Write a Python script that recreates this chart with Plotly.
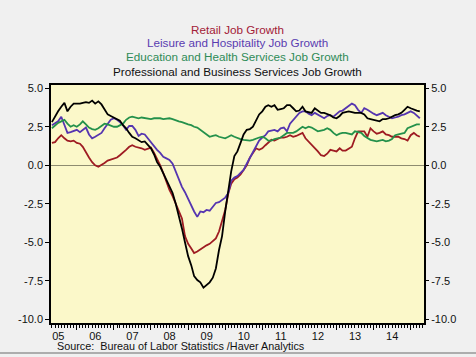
import pandas as pd
import plotly.graph_objects as go

# ---- data (monthly, % change y/y), May 2005 .. Apr 2015 ----
dates = pd.date_range("2005-05-01", periods=120, freq="MS")

retail = [1.45, 1.5, 1.75, 1.95, 1.75, 1.6, 1.55, 1.6, 1.45, 1.4, 1.2, 0.8, 0.5, 0.2, 0.0, -0.1, 0.0, 0.15, 0.3, 0.35,
          0.4, 0.5, 0.65, 0.8, 1.0, 1.2, 1.3, 1.2, 1.15, 1.1, 1.0, 1.1, 1.15, 0.8, 0.45, 0.0, -0.5, -1.1, -1.6, -2.0,
          -2.45, -2.9, -3.45, -4.6, -5.1, -5.4, -5.7, -5.6, -5.45, -5.3, -5.2, -5.1, -4.9, -4.75, -4.3, -3.6, -2.9, -1.8, -1.2, -0.9,
          -0.8, -0.6, -0.3, 0.0, 0.5, 0.8, 1.1, 1.0, 1.1, 1.3, 1.5, 1.65, 1.6, 1.7, 1.8, 1.8, 1.85, 1.95, 1.85, 1.9,
          2.0, 2.1, 1.75, 1.55, 1.35, 1.1, 0.9, 0.65, 0.6, 0.75, 1.0, 0.95, 0.9, 1.1, 0.95, 0.95, 1.05, 1.2, 1.75, 2.2,
          2.2, 2.2, 1.85, 2.4, 2.2, 2.05, 2.1, 2.2, 2.0, 1.95, 1.85, 1.85, 1.85, 1.75, 1.7, 1.6, 1.95, 2.1, 1.95, 1.85]

leisure = [2.6, 2.7, 2.85, 3.15, 2.6, 2.1, 2.15, 2.2, 2.3, 2.15, 2.3, 2.45, 2.0, 1.75, 1.85, 1.95, 2.1, 2.4, 2.7, 2.95,
           3.05, 2.95, 2.8, 2.6, 2.3, 2.55, 2.55, 2.3, 1.9, 2.05, 2.0, 1.75, 1.45, 1.2, 1.0, 0.8, 0.55, 0.45, 0.35, 0.1,
           -0.4, -0.9, -1.4, -1.75, -2.2, -2.6, -3.0, -3.35, -3.0, -3.05, -2.9, -2.95, -2.7, -2.45, -2.4, -2.25, -2.1, -1.8, -1.0, -0.8,
           -0.7, -0.5, -0.3, 0.1, 0.5, 0.9, 1.3, 1.6, 1.8, 1.95, 2.2, 2.25, 2.3, 2.2, 2.4, 2.45, 2.2, 2.7, 2.95, 3.15,
           3.4, 3.5, 3.5, 3.35, 3.25, 3.4, 3.3, 3.15, 3.05, 3.2, 3.25, 3.15, 3.3, 3.5, 3.55, 3.7, 3.8, 4.0, 3.9, 3.6,
           3.4, 3.7, 3.6, 3.45, 3.35, 3.25, 3.3, 3.4, 3.25, 3.15, 3.05, 3.1, 3.15, 3.25, 3.3, 3.4, 3.5, 3.4, 3.2, 3.05]

education = [2.4, 2.6, 2.75, 2.85, 2.95, 2.7, 2.5, 2.6, 2.5, 2.65, 2.85, 2.65, 2.45, 2.35, 2.3, 2.4, 2.55, 2.7, 2.65, 2.6,
             2.5, 2.5, 2.6, 2.7, 2.95, 3.1, 3.15, 3.1, 3.05, 3.1, 3.05, 3.0, 3.0, 3.05, 3.05, 3.05, 3.0, 3.05, 3.05, 3.0,
             2.9, 2.85, 2.8, 2.7, 2.65, 2.6, 2.5, 2.45, 2.3, 2.2, 2.0, 1.85, 1.9, 1.95, 1.85, 1.8, 1.75, 1.85, 1.95, 1.85,
             1.75, 1.7, 1.65, 1.6, 1.6, 1.65, 1.75, 1.8, 1.85, 1.75, 1.6, 1.6, 1.7, 1.75, 1.8, 1.95, 2.1, 2.1, 2.1, 2.2,
             2.35, 2.5, 2.4, 2.5, 2.45, 2.35, 2.2, 2.25, 2.3, 2.4, 2.3, 2.1, 1.95, 2.05, 2.1, 2.1, 2.05, 2.0, 2.2, 2.15,
             2.1, 1.9, 1.75, 1.65, 1.6, 1.55, 1.6, 1.65, 1.55, 1.6, 1.7, 1.95, 2.0, 2.05, 2.1, 2.4, 2.5, 2.55, 2.65, 2.65]

professional = [2.8, 3.2, 3.5, 3.8, 4.05, 3.5, 3.8, 4.0, 4.0, 4.0, 4.05, 4.1, 4.05, 4.2, 4.0, 4.15, 3.95, 3.6, 3.3, 3.2,
                3.1, 3.0, 2.9, 2.6, 2.4, 2.1, 1.85, 1.75, 1.6, 1.5, 1.55, 1.35, 1.1, 0.7, 0.2, -0.1, -0.5, -0.9, -1.4, -1.8,
                -2.5, -3.2, -4.1, -5.0, -5.9, -6.5, -7.2, -7.45, -7.6, -7.95, -7.75, -7.6, -7.3, -6.7, -5.5, -4.6, -3.0, -1.6, -0.4, 0.6,
                0.9, 1.45, 2.0, 2.3, 2.35, 2.5, 2.9, 3.3, 3.5, 3.8, 3.9, 3.8, 3.9, 3.6, 3.65, 3.7, 3.9, 3.9, 3.7, 3.5,
                3.55, 3.8, 3.5, 3.45, 3.4, 3.7, 3.55, 3.4, 3.4, 3.35, 3.25, 3.1, 3.05, 3.2, 3.4, 3.45, 3.5, 3.45, 3.4, 3.4,
                3.4, 3.3, 3.05, 3.0, 2.95, 2.9, 2.85, 3.0, 3.0, 3.05, 3.15, 3.25, 3.3, 3.4, 3.6, 3.8, 3.7, 3.6, 3.55, 3.5]

series_names = ["Retail Job Growth",
                "Leisure and Hospitality Job Growth",
                "Education and Health Services Job Growth",
                "Professional and Business Services Job Growth"]
line_colors = ["#9E1B22", "#5535B0", "#24914B", "#000000"]
title_colors = ["#A32038", "#5A3CB0", "#2E8B57", "#111111"]

y_tickvals = [5.0, 2.5, 0.0, -2.5, -5.0, -7.5, -10.0]
y_ticktext = ["5.0", "2.5", "0.0", "-2.5", "-5.0", "-7.5", "-10.0"]

source_text = "Source:\u00a0 Bureau of Labor Statistics /Haver Analytics"

# ---- figure ----
FONT = "Liberation Sans, Arial, sans-serif"
fig = go.Figure()
for vals, name, col in zip([retail, leisure, education, professional], series_names, line_colors):
    fig.add_trace(go.Scatter(x=dates, y=vals, mode="lines", name=name,
                             line=dict(color=col, width=1.8), showlegend=False))
# invisible helper traces so the right-hand axis and the year-label axis are drawn
fig.add_trace(go.Scatter(x=[dates[0]], y=[0], yaxis="y2", mode="markers",
                         marker=dict(opacity=0), showlegend=False, hoverinfo="skip"))
fig.add_trace(go.Scatter(x=[dates[0]], y=[0], xaxis="x2", mode="markers",
                         marker=dict(opacity=0), showlegend=False, hoverinfo="skip"))

x_range = ["2005-04-22", "2015-05-12"]
y_range = [-10.24, 5.21]

fig.update_layout(
    width=476, height=357,
    margin=dict(l=51, r=52, t=85, b=34),
    paper_bgcolor="#F0F0F0",
    plot_bgcolor="#FBF8C9",
    font=dict(family=FONT, size=11, color="#111111"),
    xaxis=dict(type="date", range=x_range, tickmode="linear", tick0="2005-01-01", dtick="M12",
               showticklabels=False, ticks="outside", ticklen=5, tickcolor="#000",
               tickwidth=1, minor=dict(dtick="M1", tick0="2005-01-01", ticks="outside", ticklen=3,
                                       tickcolor="#000", tickwidth=1),
               showline=True, linecolor="#000", linewidth=1.5, mirror=True, showgrid=False,
               zeroline=False),
    xaxis2=dict(type="date", range=x_range, overlaying="x", side="bottom", anchor="y",
                tickmode="linear", tick0="2005-01-01", dtick="M12", tickformat="%y",
                ticklabelmode="period", ticks="", ticklabelstandoff=5, showline=False,
                showgrid=False, zeroline=False, tickfont=dict(size=11)),
    yaxis=dict(range=y_range, tickmode="array", tickvals=y_tickvals, ticktext=y_ticktext,
               ticks="outside", ticklen=4, tickcolor="#000", showline=True, linecolor="#000",
               linewidth=1.5, mirror=True, showgrid=False, zeroline=True, zerolinecolor="#8E8C70",
               zerolinewidth=1.2, tickfont=dict(size=11)),
    yaxis2=dict(range=y_range, overlaying="y", side="right", tickmode="array", tickvals=y_tickvals,
                ticktext=y_ticktext, ticks="outside", ticklen=4, tickcolor="#000", showline=False,
                showgrid=False, zeroline=False, tickfont=dict(size=11)),
)

title_y = [1.235, 1.177, 1.118, 1.058]
for name, col, yy in zip(series_names, title_colors, title_y):
    fig.add_annotation(text=name, xref="paper", yref="paper", x=0.5, y=yy, xanchor="center",
                       yanchor="middle", showarrow=False, font=dict(family=FONT, size=11.7, color=col))

fig.add_annotation(text=source_text, xref="paper", yref="paper", x=0.011, y=-0.098, xanchor="left",
                   yanchor="middle", showarrow=False, font=dict(family=FONT, size=10.8, color="#111111"))

# thin frame line at the bottom of the image
fig.add_shape(type="line", xref="paper", yref="paper", x0=-0.137, x1=1.14, y0=-0.126, y1=-0.126,
              line=dict(color="#6A6A6A", width=1.2))

fig.write_html("out.html", config={"displayModeBar": False},
               post_script="document.body.style.margin='0px';")
